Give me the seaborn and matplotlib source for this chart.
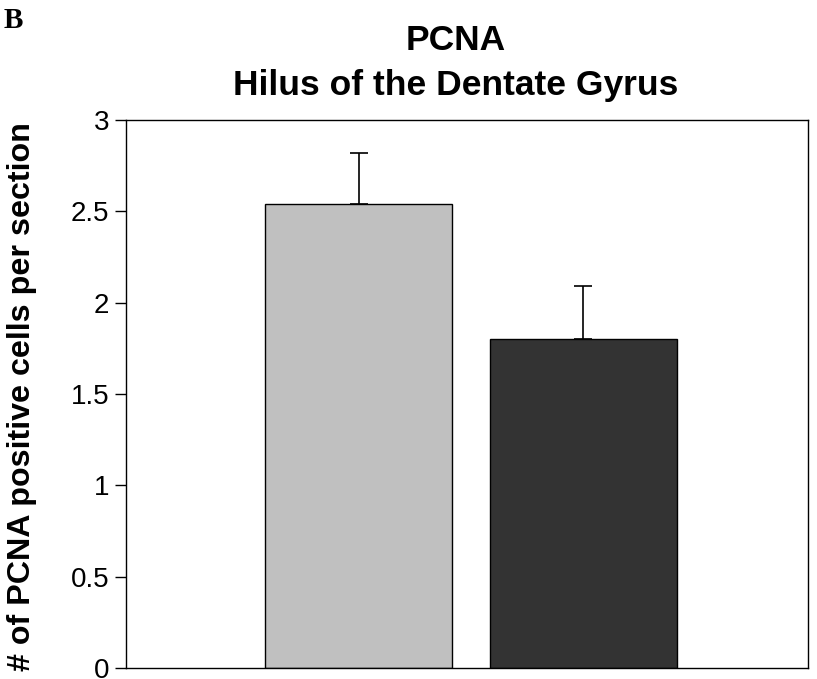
import matplotlib
matplotlib.use("Agg")
import matplotlib.pyplot as plt
import seaborn as sns
import pandas as pd

groups = ["Group 1", "Group 2"]
means = [2.54, 1.80]
sem_upper = [0.28, 0.29]
bar_colors = ["#C0C0C0", "#333333"]
yticks = [0, 0.5, 1, 1.5, 2, 2.5, 3]
ytick_labels = ["0", "0.5", "1", "1.5", "2", "2.5", "3"]

sns.set_style("white")
plt.rcParams["font.family"] = ["Liberation Sans", "DejaVu Sans"]
plt.rcParams["text.color"] = "black"
plt.rcParams["axes.labelcolor"] = "black"
plt.rcParams["ytick.color"] = "black"

fig = plt.figure(figsize=(8.17, 6.79), dpi=100)
ax = fig.add_axes([126/817, 1-668/679, (808-126)/817, (668-120)/679])

df = pd.DataFrame({"group": groups, "mean": means})
sns.barplot(data=df, x="group", y="mean", hue="group", palette=bar_colors,
            width=0.833, edgecolor="black", linewidth=1.0, legend=False, ax=ax,
            zorder=2)
ax.errorbar(x=list(range(len(groups))), y=means, yerr=[[0]*len(groups), sem_upper],
            fmt="none", ecolor="black", elinewidth=1.2, capsize=6.5, capthick=1.2,
            zorder=1)

ax.set_xlim(-1.035, 2.0)
ax.set_ylim(0, 3)
ax.set_yticks(yticks)
ax.set_yticklabels(ytick_labels, fontsize=20, color="black")
ax.set_xticks([])
ax.set_xlabel("")
ax.tick_params(axis="y", direction="out", length=8, width=1, color="black", pad=4, left=True)
ax.set_ylabel("# of PCNA positive cells per section", fontsize=23.2, fontweight="bold",
              color="black", va="center")
ax.yaxis.set_label_coords(-0.152, 0.495)
for s in ax.spines.values():
    s.set_visible(True)
    s.set_color("black")
    s.set_linewidth(1.0)

fig.text(456/817, 1-40/679, "PCNA", ha="center", va="center", fontsize=25.5,
         fontweight="bold", color="black")
fig.text(456/817, 1-86/679, "Hilus of the Dentate Gyrus", ha="center", va="center",
         fontsize=25.5, fontweight="bold", color="black")
fig.text(4/817, 1-21/679, "B", ha="left", va="center", fontsize=21, fontweight="bold",
         color="black", family=["Liberation Serif", "DejaVu Serif"])

fig.savefig("out.png", dpi=100)
